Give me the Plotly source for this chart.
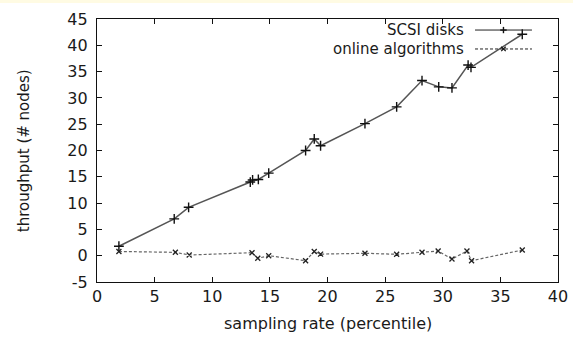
import plotly.graph_objects as go

# Data
scsi_x = [1.9, 6.7, 7.95, 13.3, 13.5, 14.0, 14.9, 18.1, 18.85, 19.4, 23.25, 26.0, 28.2, 29.65, 30.8, 32.2, 32.45, 36.9]
scsi_y = [1.8, 7.0, 9.2, 14.0, 14.4, 14.5, 15.7, 20.0, 22.2, 20.9, 25.1, 28.3, 33.3, 32.1, 31.9, 36.25, 35.8, 42.1]

online_x = [1.9, 6.8, 8.0, 13.45, 13.95, 14.9, 18.1, 18.85, 19.4, 23.25, 26.0, 28.2, 29.6, 30.8, 32.1, 32.5, 36.9]
online_y = [0.8, 0.64, 0.13, 0.57, -0.5, 0.0, -0.95, 0.8, 0.3, 0.46, 0.27, 0.64, 0.89, -0.63, 0.89, -0.95, 1.08]

series_names = ["SCSI disks", "online algorithms"]
x_title = "sampling rate (percentile)"
y_title = "throughput (# nodes)"
x_ticks = [0, 5, 10, 15, 20, 25, 30, 35, 40]
y_ticks = [-5, 0, 5, 10, 15, 20, 25, 30, 35, 40, 45]
y_tick_text = ["-5", "0", "5", "10", "15", "20", "25", "30", "35", "40", "45"]

FONT = "DejaVu Sans, Liberation Sans, Arial, sans-serif"
TXT = "#1a1a1a"

fig = go.Figure()
fig.add_trace(go.Scatter(
    x=scsi_x, y=scsi_y, mode="lines+markers", name=series_names[0],
    line=dict(color="#555555", width=1.5),
    marker=dict(symbol="cross-thin", size=7, line=dict(color="#111111", width=1.4)),
    showlegend=False))
fig.add_trace(go.Scatter(
    x=online_x, y=online_y, mode="lines+markers", name=series_names[1],
    line=dict(color="#666666", width=1.2, dash="3px,2px"),
    marker=dict(symbol="x-thin", size=5, line=dict(color="#222222", width=1.3)),
    showlegend=False))

axis_common = dict(
    showgrid=False, zeroline=False, showline=True, linecolor="#111111", linewidth=1.2,
    mirror="ticks", ticks="inside", ticklen=5, tickwidth=1, tickcolor="#111111",
    tickfont=dict(family=FONT, size=16, color=TXT), automargin=False,
)
fig.update_xaxes(range=[0, 40], tickvals=x_ticks, **axis_common)
fig.update_yaxes(range=[-5, 45], tickvals=y_ticks, ticktext=y_tick_text,
                 ticklabelstandoff=5, **axis_common)

# Manual gnuplot-style legend (text left, sample right)
shapes = [dict(type="rect", xref="paper", yref="paper", x0=-0.25, x1=1.05, y0=1.061, y1=1.075,
               fillcolor="#fffbe3", line=dict(width=0), layer="below")]
leg_y = [0.958, 0.886]
lx0, lx1, lxc = 0.820, 0.9435, 0.8817
dx, dy = 0.007, 0.012
shapes.append(dict(type="line", xref="paper", yref="paper", x0=lx0, x1=lx1, y0=leg_y[0], y1=leg_y[0],
                   line=dict(color="#222222", width=1)))
shapes.append(dict(type="line", xref="paper", yref="paper", x0=lx0, x1=lx1, y0=leg_y[1], y1=leg_y[1],
                   line=dict(color="#222222", width=1, dash="3px,2px")))
# plus marker
shapes.append(dict(type="line", xref="paper", yref="paper", x0=lxc - dx, x1=lxc + dx, y0=leg_y[0], y1=leg_y[0],
                   line=dict(color="#111111", width=1.4)))
shapes.append(dict(type="line", xref="paper", yref="paper", x0=lxc, x1=lxc, y0=leg_y[0] - dy, y1=leg_y[0] + dy,
                   line=dict(color="#111111", width=1.4)))
# x marker
shapes.append(dict(type="line", xref="paper", yref="paper", x0=lxc - dx * 0.7, x1=lxc + dx * 0.7,
                   y0=leg_y[1] - dy * 0.7, y1=leg_y[1] + dy * 0.7, line=dict(color="#111111", width=1.2)))
shapes.append(dict(type="line", xref="paper", yref="paper", x0=lxc - dx * 0.7, x1=lxc + dx * 0.7,
                   y0=leg_y[1] + dy * 0.7, y1=leg_y[1] - dy * 0.7, line=dict(color="#111111", width=1.2)))

annotations = [dict(x=0.7937, y=yy, xref="paper", yref="paper", text=name, showarrow=False,
                    xanchor="right", yanchor="middle", xshift=2, borderpad=0,
                    font=dict(family=FONT, size=15, color=TXT))
               for name, yy in zip(series_names, leg_y)]
# axis titles
annotations.append(dict(x=0.5, y=-0.156, xref="paper", yref="paper", text=x_title, showarrow=False,
                        xanchor="center", yanchor="middle", font=dict(family=FONT, size=16, color=TXT)))
annotations.append(dict(x=-0.159, y=0.5, xref="paper", yref="paper", text=y_title, showarrow=False,
                        textangle=-90, xanchor="center", yanchor="middle",
                        font=dict(family=FONT, size=15, color=TXT)))

fig.update_layout(
    width=573, height=337,
    margin=dict(l=97, r=15, t=19, b=55),
    paper_bgcolor="white", plot_bgcolor="white",
    shapes=shapes, annotations=annotations,
)

fig.write_html("out.html")
